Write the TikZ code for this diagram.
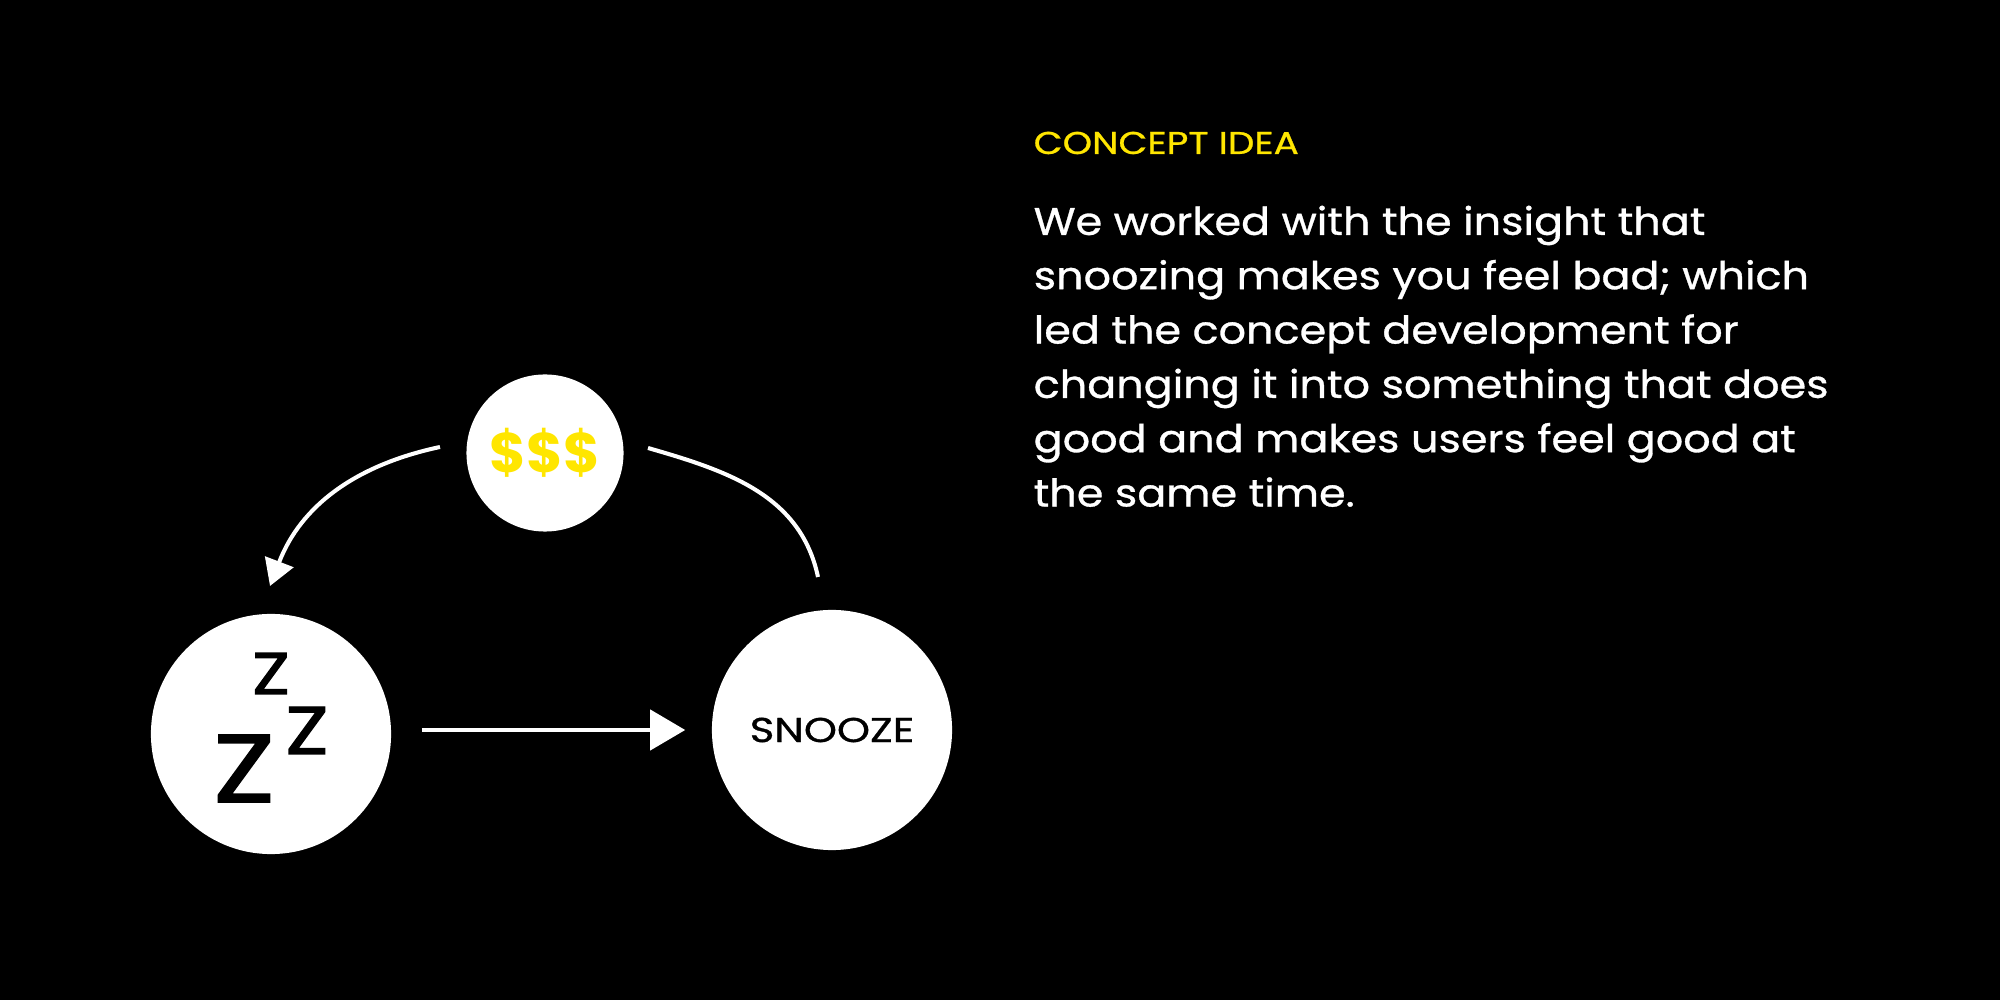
\documentclass[tikz,border=0pt]{standalone}
\usepackage{fontspec}
\setmainfont{Poppins}
\newfontfamily\bodyfont{Poppins}[FakeStretch=1.12,FakeBold=0.8]
\newfontfamily\capsfont{Poppins}[FakeStretch=1.19,FakeBold=0.8]
\newfontfamily\labelfont{Poppins}[FakeStretch=1.22,FakeBold=1]
\newfontfamily\zfont{Poppins}[FakeStretch=1.18,FakeBold=2]
\usetikzlibrary{arrows.meta,calc}
\definecolor{accent}{RGB}{255,230,0}
\begin{document}
\begin{tikzpicture}[x=0.01cm,y=0.01cm,
  bubble/.style={circle,fill=white,inner sep=0pt},
  link/.style={white,line width=1.15pt},
  zglyph/.style={anchor=base,inner sep=0pt,text=black},
  bodytext/.style={anchor=north west,inner sep=0pt,align=left,text=white,
    font=\bodyfont\fontsize{10.9}{15.45}\selectfont}]
% page
\fill[black] (0,0) rectangle (2000,1000);
\useasboundingbox (0,0) rectangle (2000,1000);

% the three bubbles
\node[bubble,minimum size=1.57cm,text=accent,font=\bfseries\fontsize{15.9}{18}\selectfont] (money) at (545,547) {\$\$\$};
\node[bubble,minimum size=2.4cm] (zzz) at (271,266) {};
\node[bubble,minimum size=2.4cm,font=\labelfont\fontsize{9.8}{12}\selectfont] (snooze) at (832,270) {SNOOZE};

% sleeping Zs
\node[zglyph,font=\zfont\fontsize{27.3}{30}\selectfont] (zbig) at (244,198) {Z};
\node[zglyph,font=\zfont\fontsize{19.2}{22}\selectfont] (zmid) at (307,246) {Z};
\node[zglyph,font=\zfont\fontsize{16.7}{19}\selectfont] (zsmall) at (271,306) {Z};

% connectors
\draw[link,-{Triangle[length=9.96pt,width=11.4pt]},shorten <=0.30cm,shorten >=0.26cm] (zzz.east |- snooze.west) -- (snooze.west);
\draw[link,-{Triangle[length=7.4pt,width=8.5pt]}] ($(money.center)+(-105,6)$) to[out=192,in=69] ($(zzz.center)+(-1,148)$);
\draw[link] ($(money.center)+(103,5)$) to[out=-16,in=102] ($(snooze.center)+(-14,153)$);

% text column
\node[anchor=base west,inner sep=0pt,text=accent,font=\capsfont\fontsize{8.96}{11}\selectfont] (head) at (1033,846) {CONCEPT IDEA};
\node[bodytext] (body) at (1033,795) {We worked with the insight that\\
snoozing makes you feel bad; which\\
led the concept development for\\
changing it into something that does\\
good and makes users feel good at\\
the same time.};
\end{tikzpicture}
\end{document}
